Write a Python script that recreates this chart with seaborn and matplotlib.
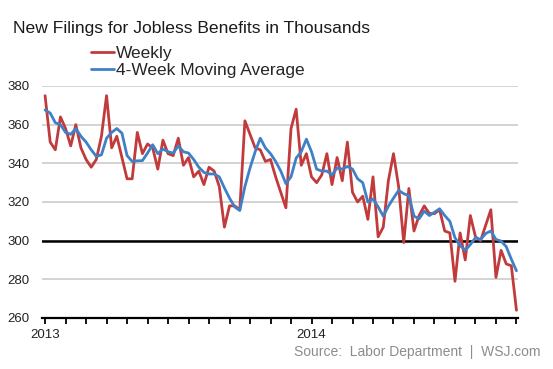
import numpy as np
import pandas as pd
import matplotlib
matplotlib.use('Agg')
import matplotlib.pyplot as plt
import seaborn as sns

# weekly initial claims, thousands (Jan 2013 - Oct 2014)
weekly = [375, 351, 347, 364, 358, 349, 360, 348, 342, 338,
          342, 354, 375, 348, 354, 343, 332, 332, 356, 345,
          350, 348, 337, 352, 345, 344, 353, 339, 343, 333,
          336, 329, 338, 336, 328, 307, 318, 318, 316, 362,
          355, 348, 347, 341, 342, 333, 325, 317, 358, 368,
          339, 345, 333, 330, 334, 345, 329, 343, 331, 351,
          325, 320, 323, 311, 333, 302, 307, 331, 345, 328,
          299, 327, 305, 313, 318, 314, 314, 316, 305, 304,
          279, 304, 290, 313, 302, 300, 308, 316, 281, 295,
          288, 287, 264]

moving_avg = [367.6, 366, 361, 360, 356, 355, 358, 354, 351, 347,
              343.6, 344.4, 353, 356, 358, 355.6, 344, 341, 341.3, 341.4,
              345.3, 349.6, 345, 347.4, 346, 345.3, 349, 346, 345.3, 342,
              338, 335.3, 334.5, 334.5, 333, 327.3, 322, 317.5, 315.6, 328,
              337.6, 346, 353, 348, 345, 341, 336, 329.5, 333, 342.7,
              346, 352.5, 346, 337, 336, 336, 334, 337.6, 337, 338.4,
              337, 332, 330, 320, 321.6, 317.5, 312.7, 317.8, 322, 326,
              324.3, 323.3, 312.7, 311.3, 315.3, 313, 314.7, 316.5, 313, 310,
              301.5, 297.5, 295, 298, 301.5, 300.6, 303.7, 305, 300.6, 299.8,
              296.9, 290.4, 284.4]

series_names = ['Weekly', '4-Week Moving Average']
series_colors = ['#c13b3c', '#3f80c6']
year_labels = ['2013', '2014']
year_weeks = [0, 52]
y_ticks = [260, 280, 300, 320, 340, 360, 380]

n = len(weekly)
weeks = np.arange(n)
df = pd.DataFrame({
    'week': np.concatenate([weeks, weeks]),
    'claims': weekly + moving_avg,
    'series': [series_names[0]] * n + [series_names[1]] * n,
})

sns.set_style('white')
plt.rcParams['font.family'] = ['Liberation Sans', 'DejaVu Sans']

fig = plt.figure(figsize=(5.53, 3.69), dpi=100)
ax = fig.add_axes([42 / 553, 51 / 369, 476 / 553, 232 / 369])

sns.lineplot(data=df, x='week', y='claims', hue='series', hue_order=series_names,
             palette=dict(zip(series_names, series_colors)), linewidth=2.0, ax=ax)

ax.set_xlim(-0.6, n - 1 + 0.3)
ax.set_ylim(y_ticks[0], y_ticks[-1])

# grid + reference line at 300
ax.set_yticks(y_ticks)
ax.yaxis.grid(True, color='#c8c8c8', linewidth=1.1)
ax.set_axisbelow(True)
ax.axhline(300, color='black', linewidth=1.8, zorder=1.5)

# x ticks every 4 weeks, labels only at year starts
tick_pos = list(range(0, n, 4))
ax.set_xticks(tick_pos)
ax.set_xticklabels([year_labels[year_weeks.index(t)] if t in year_weeks else '' for t in tick_pos])

ax.tick_params(axis='x', direction='out', length=4, width=1.3, color='black',
               pad=4, labelsize=9.5, labelcolor='#222222', bottom=True)
ax.tick_params(axis='y', length=0, pad=9, labelsize=9.5, labelcolor='#222222')
for lab in ax.get_yticklabels():
    lab.set_horizontalalignment('right')

for side in ['top', 'right', 'left']:
    ax.spines[side].set_visible(False)
ax.spines['bottom'].set_color('black')
ax.spines['bottom'].set_linewidth(1.6)
ax.set_xlabel('')
ax.set_ylabel('')

handles, labels = ax.get_legend_handles_labels()
ax.legend(handles, labels, loc='upper left', bbox_to_anchor=(91 / 553, 1 - 46 / 369),
          bbox_transform=fig.transFigure, frameon=False, fontsize=12.5,
          handlelength=1.35, handletextpad=0.1, labelspacing=0.12,
          borderpad=0, borderaxespad=0)

fig.text(13 / 553, 1 - 33 / 369, 'New Filings for Jobless Benefits in Thousands',
         fontsize=12.6, color='#1a1a1a', va='baseline', ha='left')
fig.text(540 / 553, 1 - 352 / 369, 'Source:  Labor Department  |  WSJ.com',
         fontsize=10, color='#8c8c8c', va='center', ha='right')

fig.savefig('out.png', dpi=100)
